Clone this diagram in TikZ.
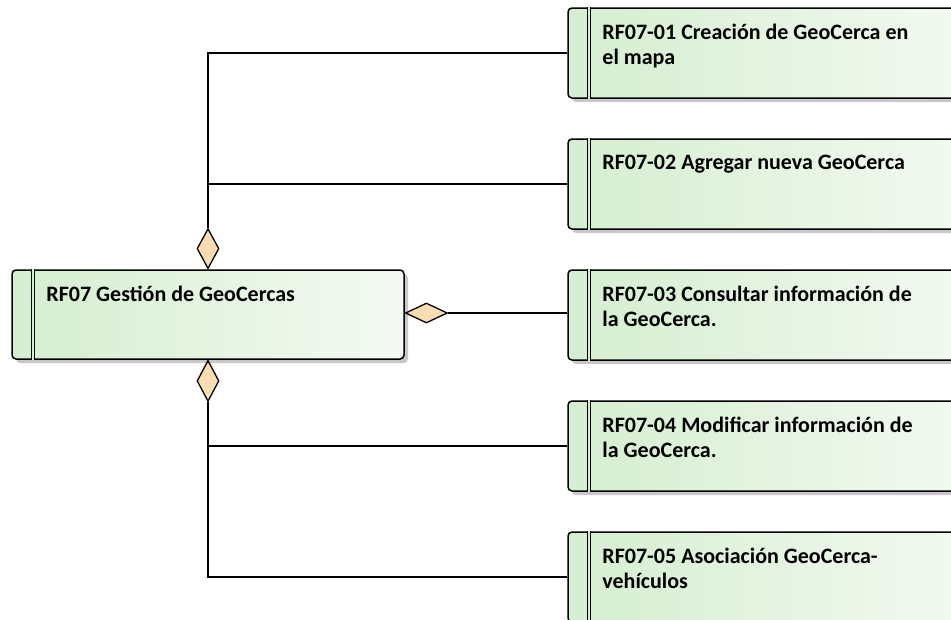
\documentclass[tikz,border=0pt]{standalone}
\usepackage{fontspec}
\setmainfont{Carlito}[BoldFont={Carlito Bold}]
\usetikzlibrary{shapes.geometric,shadows}

\definecolor{reqleft}{RGB}{213,238,208}
\definecolor{reqright}{RGB}{244,250,243}
\definecolor{aggfill}{RGB}{250,221,178}
\definecolor{shadowgray}{RGB}{200,200,204}

\tikzset{
  reqbox/.style={draw=black, line width=1.5pt, rounded corners=4pt,
    left color=reqleft, right color=reqright, inner sep=0pt,
    general shadow={fill=shadowgray, shadow xshift=4pt, shadow yshift=-4pt}},
  reqbar/.style={draw=black, line width=1.1pt, double=reqleft, double distance=1.8pt},
  reqtext/.style={anchor=north west, align=left, inner sep=0pt,
    font=\fontsize{22}{25}\selectfont\bfseries},
  agg/.style={diamond, draw=black, line width=1.3pt, fill=aggfill, inner sep=0pt},
  link/.style={draw=black, line width=1.3pt}
}

\begin{document}
\begin{tikzpicture}[x=1pt, y=-1pt]
\useasboundingbox (0,0) rectangle (951,619);

% parent requirement
\node[reqbox, minimum width=392pt, minimum height=89pt] (main) at (208,314.5) {};
\draw[reqbar] ([xshift=21.5pt]main.north west) -- ([xshift=21.5pt]main.south west);
\node[reqtext] (maintxt) at ([xshift=35pt, yshift=-17pt]main.north west) {RF07 Gestión de GeoCercas};

% child requirements
\foreach \n/\y in {r1/53, r2/184, r3/315, r4/446, r5/577} {
  \node[reqbox, minimum width=420pt, minimum height=90pt] (\n) at (778,\y) {};
  \draw[reqbar] ([xshift=22pt]\n.north west) -- ([xshift=22pt]\n.south west);
}
\node[reqtext] (t1) at ([xshift=35pt, yshift=-17pt]r1.north west) {RF07-01 Creación de GeoCerca en\\el mapa};
\node[reqtext] (t2) at ([xshift=35pt, yshift=-17pt]r2.north west) {RF07-02 Agregar nueva GeoCerca};
\node[reqtext] (t3) at ([xshift=35pt, yshift=-17pt]r3.north west) {RF07-03 Consultar información de\\la GeoCerca.};
\node[reqtext] (t4) at ([xshift=35pt, yshift=-17pt]r4.north west) {RF07-04 Modificar información de\\la GeoCerca.};
\node[reqtext] (t5) at ([xshift=35pt, yshift=-17pt]r5.north west) {RF07-05 Asociación GeoCerca-\\vehículos};

% aggregation diamonds on the parent
\node[agg, minimum width=22pt, minimum height=40pt, anchor=south] (dtop) at (main.north) {};
\node[agg, minimum width=22pt, minimum height=41pt, anchor=north] (dbot) at (main.south) {};
\node[agg, minimum width=42pt, minimum height=20pt, anchor=west] (dright) at ([yshift=1.5pt]main.east) {};

% connectors
\draw[link] (dtop.north) |- (r1.west);
\draw[link] (dtop.north) |- (r2.west);
\draw[link] (dright.east) -- (dright.east -| r3.west);
\draw[link] (dbot.south) |- (r4.west);
\draw[link] (dbot.south) |- (r5.west);
\end{tikzpicture}
\end{document}
